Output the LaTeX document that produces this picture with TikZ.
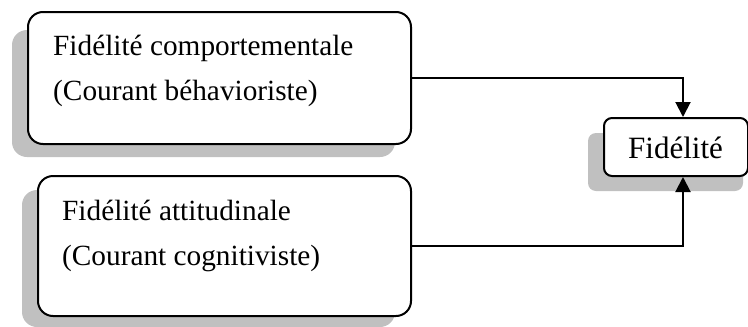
\documentclass[tikz,border=0pt]{standalone}
\usepackage{fontspec}
\setmainfont{Liberation Serif}
\usetikzlibrary{arrows.meta,calc}
\definecolor{shadowgray}{HTML}{C0C0C0}
\tikzset{
  box/.style={draw=black, line width=2pt, fill=white, rounded corners=15pt, anchor=north west, inner sep=0pt},
  smallbox/.style={box, rounded corners=8pt},
  shade/.style={fill=shadowgray},
  label/.style={anchor=base west, inner sep=0pt, font=\fontsize{29.3}{34}\selectfont},
  biglabel/.style={label, font=\fontsize{31}{36}\selectfont},
  conn/.style={line width=2pt, -{Triangle[length=15pt,width=15pt]}}
}
\begin{document}
\begin{tikzpicture}[x=1pt,y=-1pt]
\useasboundingbox (0,0) rectangle (748,327);
% drop shadows
\fill[shade, rounded corners=15pt] (12,30) rectangle (395,157);
\fill[shade, rounded corners=15pt] (22,190) rectangle (395,327);
\fill[shade, rounded corners=8pt] (588,133) rectangle (743,191);
% boxes
\node[box, minimum width=383pt, minimum height=132pt] (b1) at (27,11) {};
\node[box, minimum width=373pt, minimum height=140pt] (b2) at (37,175) {};
\node[smallbox, minimum width=144pt, minimum height=58pt] (f) at (603,117) {};
% texts
\node[label] (t1a) at (53,55) {Fidélité comportementale};
\node[label] (t1b) at (53,100) {(Courant béhavioriste)};
\node[label] (t2a) at (62,220) {Fidélité attitudinale};
\node[label] (t2b) at (62,265) {(Courant cognitiviste)};
\node[biglabel] (tf) at (628,158) {Fidélité};
% connectors
\coordinate (fin) at ($(f.north west)+(80pt,0)$);
\coordinate (fout) at ($(f.south west)+(80pt,0)$);
\draw[conn] (b1.east) -| (fin);
\draw[conn] (b2.east) -| (fout);
\end{tikzpicture}
\end{document}
